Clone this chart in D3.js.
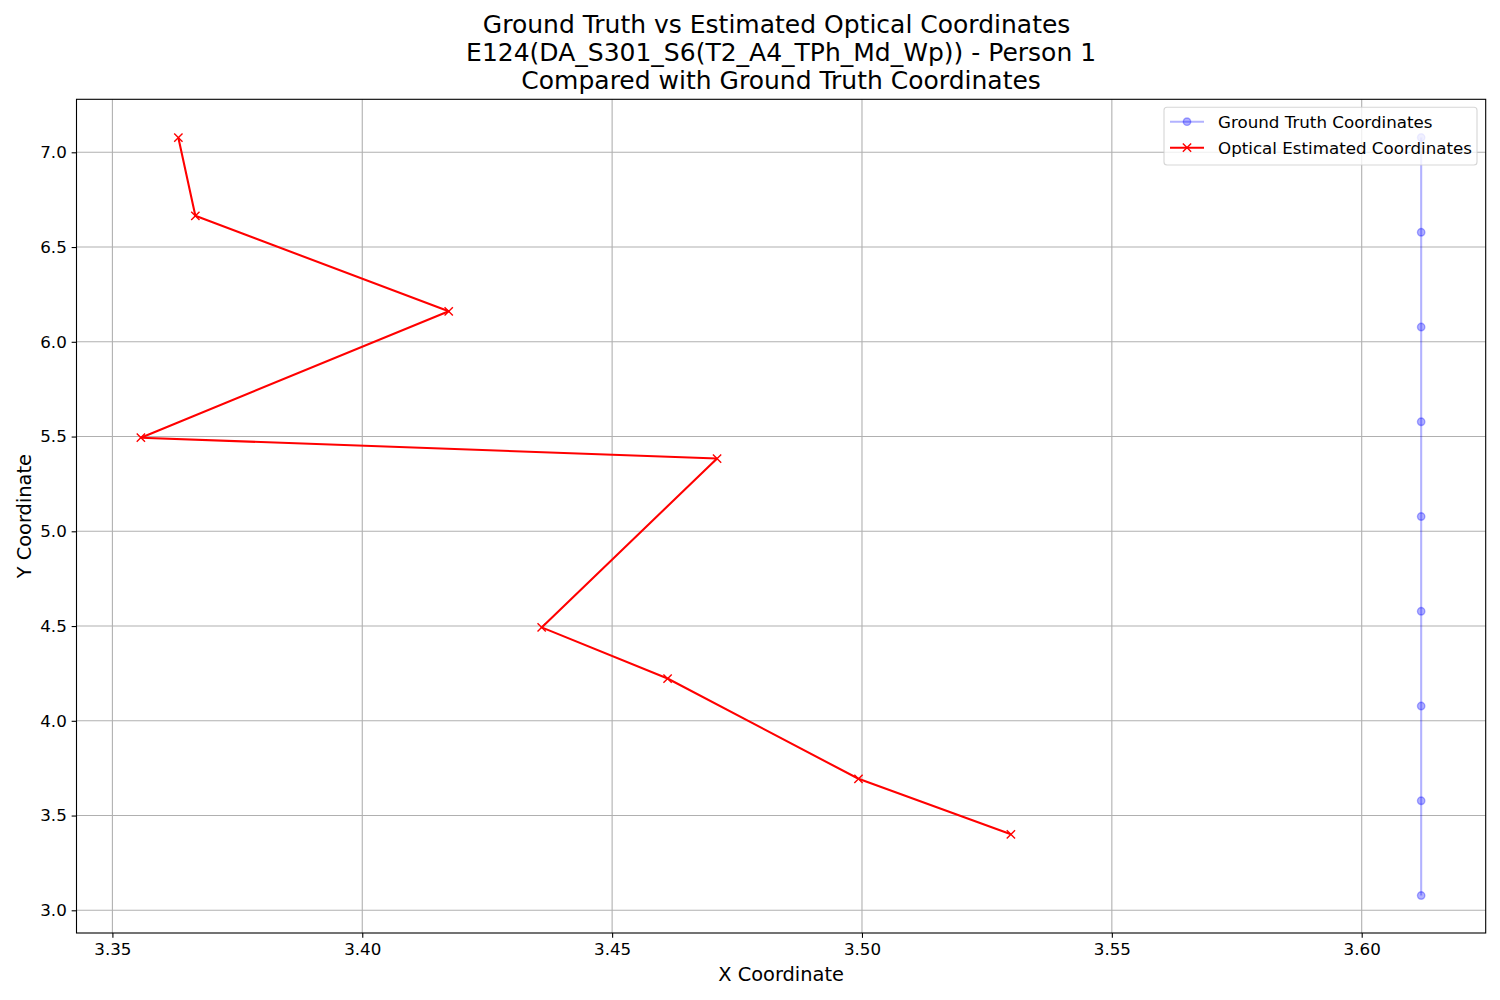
<!DOCTYPE html>
<html>
<head>
<meta charset="utf-8">
<script src="https://cdn.jsdelivr.net/npm/d3@7"></script>
<style>
  html, body { margin: 0; padding: 0; background: #fff; }
  svg { display: block; font-family: "DejaVu Sans", sans-serif; }
</style>
</head>
<body>
<svg id="chart" width="1500" height="1000"></svg>
<script>
// ---- data ----
const titleLines = [
  "Ground Truth vs Estimated Optical Coordinates",
  "E124(DA_S301_S6(T2_A4_TPh_Md_Wp)) - Person 1",
  "Compared with Ground Truth Coordinates"
];
const gtX = [3.6119, 3.6119, 3.6119, 3.6119, 3.6119, 3.6119, 3.6119, 3.6119, 3.6119];
const gtY = [7.078, 6.578, 6.078, 5.578, 5.078, 4.578, 4.078, 3.578, 3.078];
const optX = [3.3632, 3.3666, 3.4173, 3.3557, 3.4710, 3.4359, 3.4611, 3.4993, 3.5298];
const optY = [7.077, 6.665, 6.161, 5.494, 5.384, 4.493, 4.223, 3.694, 3.401];
const xTicks = [3.35, 3.40, 3.45, 3.50, 3.55, 3.60];
const yTicks = [3.0, 3.5, 4.0, 4.5, 5.0, 5.5, 6.0, 6.5, 7.0];
const legendLabels = ["Ground Truth Coordinates", "Optical Estimated Coordinates"];

// ---- layout ----
const svg = d3.select("#chart");
const L = 76.5, R = 1485.7, T = 99.3, B = 933;
const x = d3.scaleLinear().domain([3.35, 3.60]).range([112.4, 1361.7]);
const y = d3.scaleLinear().domain([3.0, 7.0]).range([910.3, 152.3]);

// grid
const grid = svg.append("g");
grid.selectAll("line.gx").data(xTicks).enter().append("line")
  .attr("x1", d => x(d)).attr("x2", d => x(d)).attr("y1", T).attr("y2", B)
  .attr("stroke", "#b0b0b0").attr("stroke-width", 1.1);
grid.selectAll("line.gy").data(yTicks).enter().append("line")
  .attr("y1", d => y(d)).attr("y2", d => y(d)).attr("x1", L).attr("x2", R)
  .attr("stroke", "#b0b0b0").attr("stroke-width", 1.1);

// clip
svg.append("clipPath").attr("id", "clip").append("rect")
  .attr("x", L).attr("y", T).attr("width", R - L).attr("height", B - T);
const plot = svg.append("g").attr("clip-path", "url(#clip)");

const line = d3.line().x(d => x(d[0])).y(d => y(d[1]));
const gt = gtX.map((v, i) => [v, gtY[i]]);
const opt = optX.map((v, i) => [v, optY[i]]);

// ground truth
plot.append("path").datum(gt).attr("d", line).attr("fill", "none")
  .attr("stroke", "blue").attr("stroke-opacity", 0.3).attr("stroke-width", 2.08);
plot.selectAll("circle.gt").data(gt).enter().append("circle")
  .attr("cx", d => x(d[0])).attr("cy", d => y(d[1])).attr("r", 3.7)
  .attr("fill", "blue").attr("fill-opacity", 0.3)
  .attr("stroke", "blue").attr("stroke-opacity", 0.3).attr("stroke-width", 1.4);

// optical
plot.append("path").datum(opt).attr("d", line).attr("fill", "none")
  .attr("stroke", "red").attr("stroke-width", 2.08).attr("stroke-linejoin", "round");
const xm = 4.15;
plot.selectAll("path.xm").data(opt).enter().append("path")
  .attr("d", d => {
    const cx = x(d[0]), cy = y(d[1]);
    return `M${cx - xm},${cy - xm}L${cx + xm},${cy + xm}M${cx - xm},${cy + xm}L${cx + xm},${cy - xm}`;
  })
  .attr("stroke", "red").attr("stroke-width", 1.4).attr("fill", "none");

// spines
svg.append("rect").attr("x", L).attr("y", T).attr("width", R - L).attr("height", B - T)
  .attr("fill", "none").attr("stroke", "#000").attr("stroke-width", 1.1);

// axes
const xAxis = d3.axisBottom(x).tickValues(xTicks).tickFormat(d3.format(".2f")).tickSize(4.86).tickPadding(4.86);
const gX = svg.append("g").attr("transform", `translate(0,${B})`).call(xAxis);
const yAxis = d3.axisLeft(y).tickValues(yTicks).tickFormat(d3.format(".1f")).tickSize(4.86).tickPadding(4.86);
const gY = svg.append("g").attr("transform", `translate(${L},0)`).call(yAxis);
[gX, gY].forEach(g => {
  g.select(".domain").remove();
  g.selectAll(".tick line").attr("stroke", "#000").attr("stroke-width", 1.1);
  g.selectAll(".tick text").attr("fill", "#000")
    .style("font-family", "DejaVu Sans").style("font-size", "16.7px");
});

// axis labels
svg.append("text").attr("x", (L + R) / 2).attr("y", 981).attr("text-anchor", "middle")
  .style("font-size", "19.4px").text("X Coordinate");
svg.append("text").attr("transform", `translate(31,${(T + B) / 2}) rotate(-90)`)
  .attr("text-anchor", "middle").style("font-size", "19.4px").text("Y Coordinate");

// title
svg.append("g").selectAll("text").data(titleLines).enter().append("text")
  .attr("x", (d, i) => (L + R) / 2 - (i === 0 ? 4.5 : 0)).attr("y", (d, i) => 33.2 + i * 27.8)
  .attr("text-anchor", "middle").style("font-size", "25px").text(d => d);

// legend
const lg = svg.append("g");
lg.append("rect").attr("x", 1164).attr("y", 107.3).attr("width", 313).attr("height", 57.7)
  .attr("rx", 3).attr("fill", "#fff").attr("fill-opacity", 0.8)
  .attr("stroke", "#cccccc").attr("stroke-opacity", 0.8).attr("stroke-width", 1.1);
const rows = [121.7, 147.7];
// GT handle
lg.append("line").attr("x1", 1170).attr("x2", 1204).attr("y1", rows[0]).attr("y2", rows[0])
  .attr("stroke", "blue").attr("stroke-opacity", 0.3).attr("stroke-width", 2.08);
lg.append("circle").attr("cx", 1187).attr("cy", rows[0]).attr("r", 3.7)
  .attr("fill", "blue").attr("fill-opacity", 0.3)
  .attr("stroke", "blue").attr("stroke-opacity", 0.3).attr("stroke-width", 1.4);
// optical handle
lg.append("line").attr("x1", 1170).attr("x2", 1204).attr("y1", rows[1]).attr("y2", rows[1])
  .attr("stroke", "red").attr("stroke-width", 2.08);
lg.append("path")
  .attr("d", `M${1187 - xm},${rows[1] - xm}L${1187 + xm},${rows[1] + xm}M${1187 - xm},${rows[1] + xm}L${1187 + xm},${rows[1] - xm}`)
  .attr("stroke", "red").attr("stroke-width", 1.4);
lg.selectAll("text").data(legendLabels).enter().append("text")
  .attr("x", 1218).attr("y", (d, i) => rows[i]).attr("dy", "0.36em")
  .style("font-size", "16.7px").text(d => d);
</script>
</body>
</html>
